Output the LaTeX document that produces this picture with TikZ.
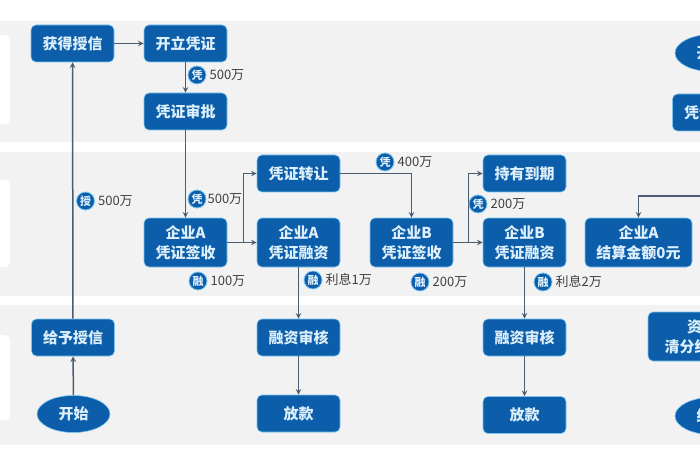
\documentclass[tikz,border=0pt]{standalone}
\usepackage{fontspec}
\setmainfont{Noto Sans CJK SC}
\usetikzlibrary{shapes.geometric, positioning}
\definecolor{bandgray}{HTML}{F2F2F2}
\definecolor{boxblue}{HTML}{0C5EAA}
\definecolor{boxedge}{HTML}{7CC4EE}
\definecolor{boxtext}{HTML}{DCEFFB}
\definecolor{linegray}{HTML}{4A5C70}
\tikzset{
  band/.style={fill=bandgray, draw=none},
  tab/.style={fill=white, draw=none, rounded corners=5pt},
  flowbox/.style={draw=boxedge, line width=0.6pt, fill=boxblue, rounded corners=5pt, text=boxtext,
    minimum width=83pt, minimum height=37pt, inner sep=0pt, align=center, font=\fontsize{15}{20}\selectfont\bfseries},
  tallbox/.style={flowbox, minimum height=49pt},
  startoval/.style={flowbox, ellipse, minimum width=73pt, minimum height=37pt},
  link/.style={->, draw=linegray, line width=1.5pt},
  badge/.style={circle, draw=boxedge, line width=0.8pt, fill=boxblue, text=boxtext, minimum size=18pt,
    inner sep=0pt, font=\fontsize{11}{11}\selectfont\bfseries},
  amount/.style={inner sep=0pt, text=black!75, font=\fontsize{13}{15}\selectfont},
}
\begin{document}
\begin{tikzpicture}[>=stealth, x=1pt, y=-1pt]
    \useasboundingbox (0,0) rectangle (700,470);

    % Nền ba dải
    \fill[band] (0,21) rectangle (700,142);
    \fill[band] (0,152) rectangle (700,296);
    \fill[band] (0,305) rectangle (700,445);
    \fill[tab] (-8,35) rectangle (10,124);
    \fill[tab] (-8,180) rectangle (10,267);
    \fill[tab] (-8,335) rectangle (10,420);

    % Cột bên trái
    \node[flowbox] (huode) at (72.5,43.5) {获得授信};
    \node[flowbox] (geiyu) at (73,337.5) {给予授信};
    \node[startoval] (kaishi) at (73.5,414) {开始};

    % Chứng từ
    \node[flowbox] (kaili) at (185.5,43.5) {开立凭证};
    \node[flowbox] (shenpi) at (185.5,111.5) {凭证审批};
    \node[tallbox] (qianA) at (185.5,242.5) {企业A\\凭证签收};
    \node[flowbox] (zhuanrang) at (298.5,173.5) {凭证转让};
    \node[tallbox] (rongA) at (298.5,242.5) {企业A\\凭证融资};
    \node[tallbox] (qianB) at (411.5,242.5) {企业B\\凭证签收};
    \node[flowbox] (chiyou) at (524.5,173.5) {持有到期};
    \node[tallbox] (rongB) at (524.5,242.5) {企业B\\凭证融资};
    \node[tallbox, minimum width=107pt] (jiesuan) at (638.5,242.5) {企业A\\结算金额0元};

    % Hàng dưới
    \node[flowbox] (shenheA) at (298.5,337.5) {融资审核};
    \node[flowbox] (fangA) at (298.5,413.5) {放款};
    \node[flowbox] (shenheB) at (524.5,337.5) {融资审核};
    \node[flowbox] (fangB) at (524.5,415) {放款};

    % Bên phải, bị cắt ở mép hình
    \node[startoval] (kaishiR) at (711.5,53) {开始};
    \node[flowbox] (duifu) at (714,112.5) {凭证兑付};
    \node[tallbox, minimum width=108pt] (qingfen) at (702,336.5) {资金\\清分结算款};
    \node[startoval] (jieshu) at (711.5,416) {结束};
    \coordinate (jiesuanin) at (704,196);

    % Các mũi tên
    \draw[link] (kaishi) -- (geiyu);
    \draw[link] (geiyu) -- (huode);
    \draw[link] (huode) -- (kaili);
    \draw[link] (kaili) -- (shenpi);
    \draw[link] (shenpi) -- (qianA);
    \draw[link] (qianA) -- (rongA);
    \draw[link] (qianA.east) -| ++(16,0) |- (zhuanrang.west);
    \draw[link] (zhuanrang.east) -| (qianB.north);
    \draw[link] (qianB) -- (rongB);
    \draw[link] (qianB.east) -| ++(15,0) |- (chiyou.west);
    \draw[link] (rongA) -- (shenheA);
    \draw[link] (shenheA) -- (fangA);
    \draw[link] (rongB) -- (shenheB);
    \draw[link] (shenheB) -- (fangB);
    \draw[link] (jiesuanin) -| (jiesuan.north);

    % Nhãn số tiền
    \node[badge] (tagkai) at (197,75) {凭};
    \node[amount, right=3pt of tagkai] (amtkai) {500万};
    \node[badge] (tagshou) at (85.5,201) {授};
    \node[amount, right=3pt of tagshou] (amtshou) {500万};
    \node[badge] (tagqian) at (197,199) {凭};
    \node[amount, right=1pt of tagqian] (amtqian) {500万};
    \node[badge] (tagrong) at (198,281) {融};
    \node[amount, right=3pt of tagrong] (amtrong) {100万};
    \node[badge] (taglixiA) at (313,280) {融};
    \node[amount, right=3pt of taglixiA] (amtlixiA) {利息1万};
    \node[badge] (tagzhuan) at (385,162) {凭};
    \node[amount, right=3pt of tagzhuan] (amtzhuan) {400万};
    \node[badge] (tagchi) at (478,204) {凭};
    \node[amount, right=3pt of tagchi] (amtchi) {200万};
    \node[badge] (tagrongB) at (420,282) {融};
    \node[amount, right=3pt of tagrongB] (amtrongB) {200万};
    \node[badge] (taglixiB) at (543,282) {融};
    \node[amount, right=3pt of taglixiB] (amtlixiB) {利息2万};
\end{tikzpicture}
\end{document}
